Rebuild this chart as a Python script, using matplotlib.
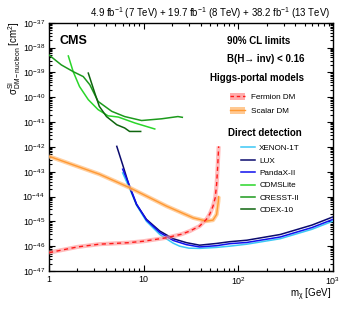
import numpy as np
import matplotlib
matplotlib.use('Agg')
import matplotlib.pyplot as plt
from matplotlib.ticker import LogLocator, FixedLocator, FuncFormatter, NullFormatter
from matplotlib.lines import Line2D
from matplotlib.patches import Patch

plt.rcParams['font.family'] = ['Liberation Sans', 'DejaVu Sans']
plt.rcParams['mathtext.fontset'] = 'custom'
plt.rcParams['mathtext.rm'] = 'Liberation Sans'
plt.rcParams['mathtext.it'] = 'Liberation Sans:italic'
plt.rcParams['mathtext.bf'] = 'Liberation Sans:bold'
plt.rcParams['mathtext.default'] = 'regular'

# Higgs-portal interpretation (mass in GeV, log10 of cross section in cm^2)
fermion_m = [1, 2, 3.4, 6.9, 10, 17.5, 25, 30.8, 39, 46, 50, 54, 57, 59, 60.5, 62]
fermion_y = [-46.26, -46.03, -45.92, -45.86, -45.8, -45.66, -45.52, -45.39,
             -45.19, -44.92, -44.7, -44.39, -44.05, -43.5, -42.8, -41.98]
scalar_m = [1, 3.4, 7.15, 17.5, 33.4, 46, 54, 59, 61.5, 62]
scalar_y = [-42.38, -43.1, -43.65, -44.39, -44.86, -44.99, -44.95, -44.72,
            -44.19, -44.0]

# direct detection limits
xenon_m = [6.0, 7.15, 8.4, 10.7, 14.8, 20.5, 24, 30, 39, 59, 81, 123, 277, 600, 1000]
xenon_y = [-43.05, -43.7, -44.35, -45.0, -45.53, -45.88, -46.0, -46.08, -46.09,
           -46.05, -46.0, -45.92, -45.7, -45.32, -44.99]
lux_m = [5.2, 6.07, 7.15, 8.4, 10.7, 14.8, 20.5, 28.4, 39, 59, 81, 123, 277, 600, 1000]
lux_y = [-41.98, -42.78, -43.65, -44.32, -44.92, -45.39, -45.70, -45.86, -45.96,
         -45.89, -45.82, -45.76, -45.53, -45.15, -44.82]
pandax_m = [6.0, 7.15, 8.4, 10.7, 14.8, 20.5, 28.4, 39, 59, 81, 123, 277, 600, 1000]
pandax_y = [-42.9, -43.6, -44.3, -44.95, -45.45, -45.77, -45.94, -46.03, -45.98,
            -45.9, -45.85, -45.63, -45.25, -44.92]
cdmslite_m = [1.6, 1.8, 2.1, 2.6, 3.3, 4.2, 5.4, 8.1, 13.1]
cdmslite_y = [-38.34, -38.97, -39.57, -40.1, -40.5, -40.75, -40.8, -41.04, -41.28]
cresst_m = [1, 1.35, 1.8, 2.3, 2.7, 3.3, 4.6, 6.3, 9.5, 15.5, 23, 25.6]
cresst_y = [-38.3, -38.70, -38.97, -39.17, -39.5, -40.17, -40.57, -40.78, -40.94,
            -40.87, -40.78, -40.81]
cdex_m = [2.6, 3.05, 3.4, 4.05, 5.2, 6.3, 7.1, 9.3]
cdex_y = [-39.03, -39.84, -40.37, -40.78, -41.11, -41.24, -41.38, -41.38]

dd_names = ['XENON-1T', 'LUX', 'PandaX-II', 'CDMSLite', 'CRESST-II', 'CDEX-10']
dd_colors = ['#3cc8f5', '#0a0a6e', '#1010ee', '#2ad62a', '#1c9a1c', '#0e650e']
dd_data = [(xenon_m, xenon_y), (lux_m, lux_y), (pandax_m, pandax_y),
           (cdmslite_m, cdmslite_y), (cresst_m, cresst_y), (cdex_m, cdex_y)]

y_decades = np.arange(-47, -36)
x_decades = np.arange(0, 4)

W, H = 349, 312
fig = plt.figure(figsize=(W / 100, H / 100), dpi=100)
ax = fig.add_axes([49 / W, 1 - 271 / H, 284 / W, 248.3 / H])

for (m, y), c in zip(dd_data, dd_colors):
    ax.plot(m, 10 ** np.array(y), color=c, lw=1.1, zorder=3)

# bands + central lines
ax.plot(scalar_m, 10 ** np.array(scalar_y), color='#ffc080', lw=3.0,
        alpha=0.75, solid_capstyle='butt', zorder=4)
ax.plot(scalar_m, 10 ** np.array(scalar_y), color='#ff9933', lw=1.0, zorder=5)
ax.plot(fermion_m, 10 ** np.array(fermion_y), color='#ff9090', lw=3.0,
        alpha=0.6, solid_capstyle='butt', zorder=4)
ax.plot(fermion_m, 10 ** np.array(fermion_y), color='#ff1a1a', lw=1.0,
        ls=(0, (3, 2.5)), zorder=5)

ax.set_xscale('log')
ax.set_yscale('log')
ax.set_xlim(1, 1000)
ax.set_ylim(1e-47, 1e-37)

ax.yaxis.set_major_locator(FixedLocator(10.0 ** y_decades))
ax.yaxis.set_minor_locator(LogLocator(base=10, subs=np.arange(2, 10), numticks=30))
ax.yaxis.set_minor_formatter(NullFormatter())
ax.yaxis.set_major_formatter(FuncFormatter(lambda v, p: r'$10^{%d}$' % round(np.log10(v))))
xlabels = {0: '1', 1: '10', 2: r'$10^{2}$', 3: r'$10^{3}$'}
ax.xaxis.set_major_locator(FixedLocator(10.0 ** x_decades))
ax.xaxis.set_major_formatter(FuncFormatter(lambda v, p: xlabels.get(round(np.log10(v)), '')))
ax.xaxis.set_minor_formatter(NullFormatter())

ax.tick_params(which='both', direction='in', top=True, right=True, width=0.8,
               labelsize=6.4, colors='black')
ax.tick_params(which='major', length=4.5, pad=3)
ax.tick_params(which='minor', length=2.3)
for s in ax.spines.values():
    s.set_linewidth(1.0)

fig.text(15 / W, 1 - 21 / H, r'$\sigma^{SI}_{DM-nucleon}$ [cm$^{2}$]',
         rotation=90, ha='center', va='top', fontsize=7)
fig.text(331 / W, 1 - 295 / H, r'm$_{\chi}$ [GeV]', ha='right', va='center',
         fontsize=7)
fig.text(330 / W, 1 - 13 / H,
         r'4.9 fb$^{-1}$ (7 TeV) + 19.7 fb$^{-1}$ (8 TeV) + 38.2 fb$^{-1}$ (13 TeV)',
         ha='right', va='center', fontsize=6.9)
fig.text(60 / W, 1 - 41 / H, 'CMS', ha='left', va='center', fontsize=9,
         weight='bold')
fig.text(259 / W, 1 - 41 / H, '90% CL limits', ha='center', va='center',
         fontsize=7, weight='bold')
fig.text(266 / W, 1 - 59 / H, 'B(H\u2192 inv) < 0.16', ha='center',
         va='center', fontsize=7, weight='bold')
fig.text(257 / W, 1 - 78 / H, 'Higgs-portal models', ha='center', va='center',
         fontsize=7, weight='bold')
fig.text(265 / W, 1 - 132.5 / H, 'Direct detection', ha='center', va='center',
         fontsize=7, weight='bold')

h_ferm = (Patch(color='#ff9090', alpha=0.75, lw=0),
          Line2D([], [], color='#ff1a1a', lw=1.0, ls=(0, (2.5, 2))))
h_scal = (Patch(color='#ffc080', alpha=0.85, lw=0),
          Line2D([], [], color='#ff9933', lw=1.0))
leg1 = ax.legend([h_ferm, h_scal], ['Fermion DM', 'Scalar DM'], frameon=False,
                 loc='upper left', bbox_to_anchor=(230 / W, 1 - 93 / H),
                 bbox_transform=fig.transFigure, fontsize=5.9, borderpad=0,
                 borderaxespad=0, handlelength=1.85, handleheight=0.9,
                 handletextpad=0.7, labelspacing=0.72)
ax.add_artist(leg1)
dd_handles = [Line2D([], [], color=c, lw=1.1) for c in dd_colors]
ax.legend(dd_handles, dd_names, frameon=False, loc='upper left',
          bbox_to_anchor=(241.5 / W, 1 - 144.5 / H), bbox_transform=fig.transFigure,
          fontsize=5.9, borderpad=0, borderaxespad=0, handlelength=1.62,
          handletextpad=0.55, labelspacing=0.57)

fig.savefig('out.png', dpi=100)
